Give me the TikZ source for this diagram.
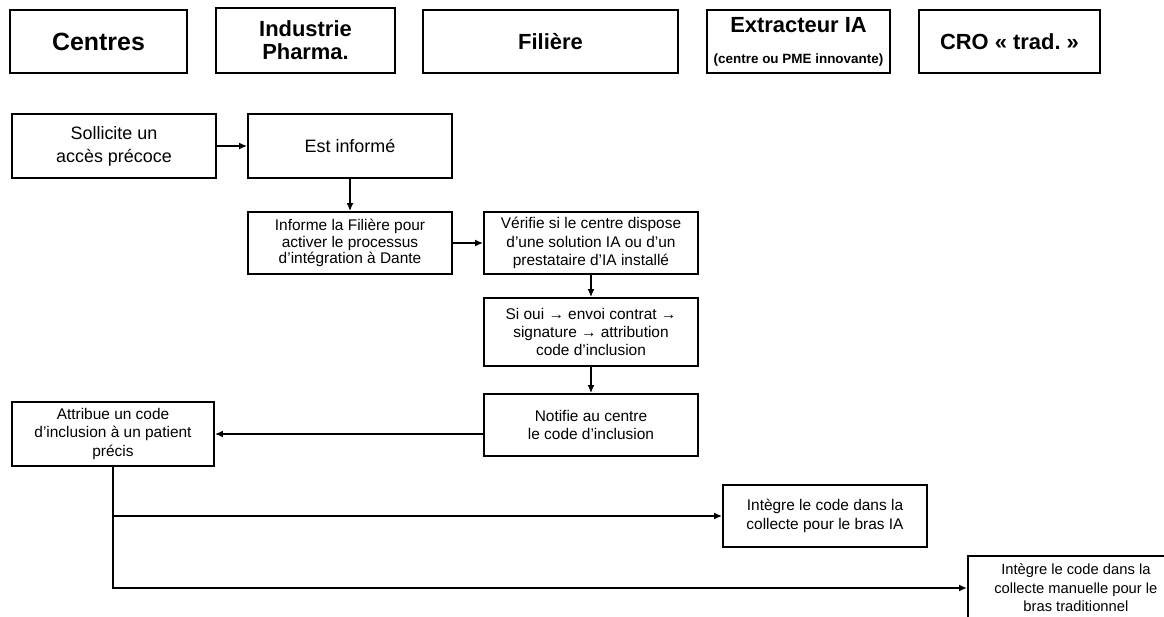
\documentclass[tikz,border=0pt]{standalone}
\usepackage{fontspec}
\setmainfont{Liberation Sans}
\usetikzlibrary{positioning,arrows.meta}

\begin{document}
\begin{tikzpicture}[x=1bp, y=-1bp, >={Latex[length=8bp,width=7bp]}, line width=1.8bp,
  entete/.style={draw, align=center, minimum height=63bp,
    font=\fontsize{22}{24}\selectfont\bfseries},
  grande/.style={draw, align=center, minimum width=204bp, minimum height=64bp,
    font=\fontsize{18}{23}\selectfont},
  petite/.style={draw, align=center, minimum width=204bp, minimum height=62bp,
    font=\fontsize{15.5}{18.5}\selectfont}]

\useasboundingbox (0,0) rectangle (1164,617);
\clip (0,0) rectangle (1164,617);

% colonnes
\node[entete, minimum width=177bp] (centres) at (98.5,41.5) {\fontsize{25}{24}\selectfont Centres};
\node[entete, minimum width=179bp, minimum height=65bp] (pharma) at (305.5,40.5) {Industrie\\[-1pt]Pharma.};
\node[entete, minimum width=255bp] (filiere) at (550.5,41.5) {Filière};
\node[entete, minimum width=183bp] (extracteur) at (798.5,41.5)
  {Extracteur IA\\[7pt]{\fontsize{13.5}{14}\selectfont (centre ou PME innovante)}};
\node[entete, minimum width=181bp] (cro) at (1009.5,41.5) {CRO «~trad.~»};

% etapes
\node[grande, minimum width=204bp] (sollicite) at (114,146) {Sollicite un\\accès précoce};
\node[grande] (informe) at (350,146) {Est informé};
\node[petite] (active) at (350,243) {Informe la Filière pour\\[-2pt]activer le processus\\[-2pt]d’intégration à Dante};
\node[petite, minimum width=214bp] (verifie) at (591,243) {Vérifie si le centre dispose\\d’une solution IA ou d’un\\prestataire d’IA installé};
\node[petite, minimum width=214bp, minimum height=68bp] (contrat) at (591,332) {Si oui → envoi contrat →\\signature → attribution\\code d’inclusion};
\node[petite, minimum width=214bp] (notifie) at (591,425) {Notifie au centre\\le code d’inclusion};
\node[petite, minimum width=202bp, minimum height=64bp] (attribue) at (113,434) {Attribue un code\\d’inclusion à un patient\\précis};
\node[petite] (integreIA) at (825,516) {Intègre le code dans la\\collecte pour le bras IA};
\node[petite, minimum width=216bp, minimum height=64bp, anchor=west,
  font=\fontsize{14.8}{18.5}\selectfont]
  (integreTrad) at (967,588) {Intègre le code dans la\\collecte manuelle pour le\\bras traditionnel};

% liens
\draw[->] (sollicite) -- (informe);
\draw[->] (informe) -- (active);
\draw[->] (active) -- (verifie);
\draw[->] (verifie) -- (contrat);
\draw[->] (contrat) -- (notifie);
\draw[->] (notifie.west |- attribue.east) -- (attribue.east);
\draw[->] (attribue.south) |- (integreIA.west);
\draw[->] (attribue.south) |- (integreTrad.west);
\end{tikzpicture}
\end{document}
